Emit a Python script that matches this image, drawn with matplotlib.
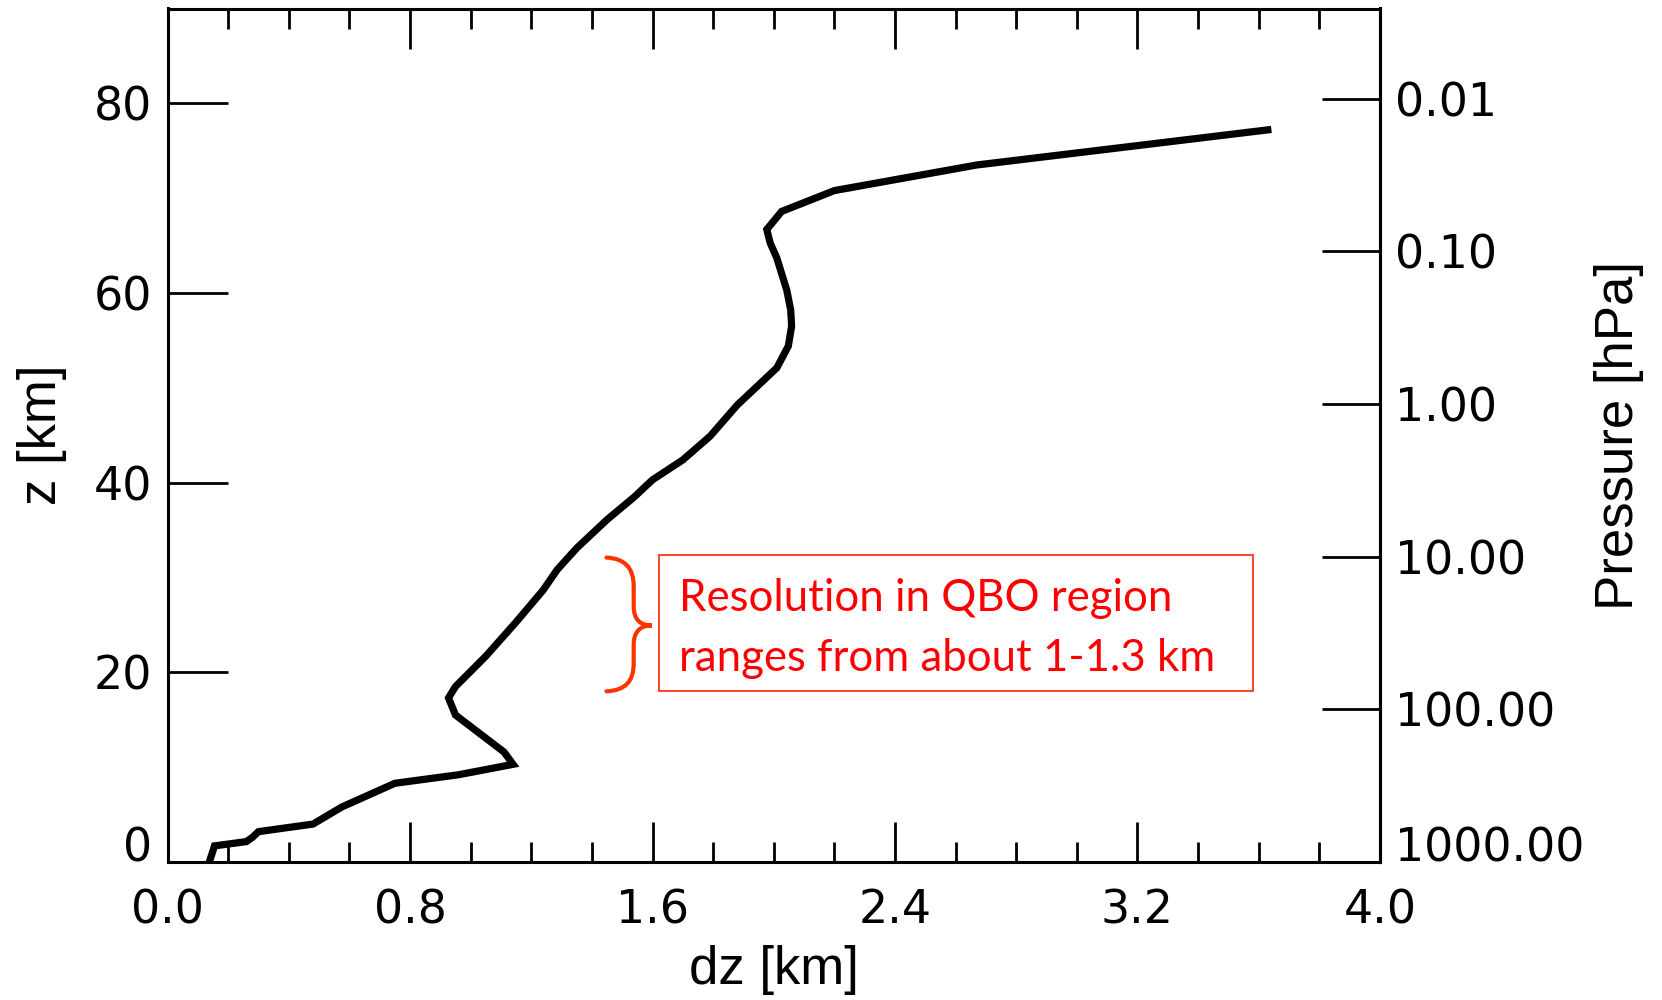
import numpy as np
import matplotlib
matplotlib.use("Agg")
import matplotlib.pyplot as plt
from matplotlib.path import Path
from matplotlib.patches import PathPatch, Rectangle

# ---- data ----
dz_km = [0.14, 0.155, 0.26, 0.28, 0.30, 0.48, 0.575, 0.75, 0.96, 1.14, 1.11, 0.95,
         0.927, 0.95, 1.05, 1.15, 1.24, 1.285, 1.35, 1.45, 1.54, 1.60, 1.70, 1.79,
         1.88, 2.01, 2.048, 2.059, 2.056, 2.043, 2.01, 1.988, 1.977, 2.026, 2.20,
         2.67, 3.63]
z_km = [0.2, 1.7, 2.15, 2.6, 3.2, 4.0, 5.8, 8.3, 9.2, 10.3, 11.6, 15.5,
        17.3, 18.5, 21.7, 25.3, 28.7, 30.8, 33.1, 36.1, 38.5, 40.3, 42.4, 44.9,
        48.2, 52.1, 54.4, 56.5, 58.2, 60.3, 63.7, 65.3, 66.7, 68.6, 70.8,
        73.5, 77.2]

x_ticks = [0.0, 0.8, 1.6, 2.4, 3.2, 4.0]
x_tick_labels = ["0.0", "0.8", "1.6", "2.4", "3.2", "4.0"]
z_ticks = [0, 20, 40, 60, 80]
z_tick_labels = ["0", "20", "40", "60", "80"]
pressures = [0.01, 0.1, 1.0, 10.0, 100.0, 1000.0]
pressure_labels = ["0.01", "0.10", "1.00", "10.00", "100.00", "1000.00"]
scale_height_decade = 16.1  # km per pressure decade on the right axis

annotation = "Resolution in QBO region\nranges from about 1-1.3 km"

# ---- figure ----
fig = plt.figure(figsize=(16.62, 10), dpi=100)
ax = fig.add_axes([0.1008, 0.138, 0.7295, 0.8535])
ax.set_xlim(0, 4.0)
ax.set_ylim(0, 90)

ax.plot(dz_km, z_km, color="black", lw=5.2, solid_joinstyle="miter", zorder=3)

for s in ax.spines.values():
    s.set_linewidth(2.2)

tick_font = dict(family="DejaVu Sans", size=33)
ax.set_xticks(x_ticks)
ax.set_xticklabels(x_tick_labels, **tick_font)
ax.set_xticks(np.arange(0, 4.01, 0.2), minor=True)
ax.set_yticks(z_ticks)
ax.set_yticklabels(z_tick_labels, **tick_font)
ax.tick_params(axis="x", which="major", direction="in", length=29, width=2,
               top=True, pad=19)
ax.tick_params(axis="x", which="minor", direction="in", length=14.4, width=2,
               top=True)
ax.tick_params(axis="y", which="major", direction="in", length=43, width=2,
               right=False, pad=11)
ax.get_yticklabels()[0].set_verticalalignment("baseline")

ax2 = ax.twinx()
ax2.set_ylim(0, 90)
p_z = [scale_height_decade * np.log10(1000.0 / p) for p in pressures]
ax2.set_yticks(p_z)
ax2.set_yticklabels(pressure_labels, **tick_font)
ax2.tick_params(axis="y", direction="in", length=42, width=2, pad=11)
ax2.get_yticklabels()[-1].set_verticalalignment("baseline")
for k, s in ax2.spines.items():
    s.set_visible(k == "right")
    s.set_linewidth(2.2)

lab_font = dict(family="Liberation Sans", size=38)
fig.text(0.4657, 0.03, "dz [km]", ha="center", va="center", **lab_font)
fig.text(0.0255, 0.565, "z [km]", ha="center", va="center", rotation=90, **lab_font)
fig.text(0.974, 0.565, "Pressure [hPa]", ha="center", va="center", rotation=90, **lab_font)

# annotation box
ax.add_patch(Rectangle((1.622, 18.0), 3.58 - 1.622, 32.4 - 18.0, fill=False,
                       edgecolor="#ff2200", lw=1.2, zorder=4))
ax.text(1.689, 24.6, annotation, color="#ff0000", family="Lato", size=31.5,
        ha="left", va="center", linespacing=1.58, zorder=5)

# curly brace
verts = [(1.448, 32.1), (1.51, 32.0), (1.538, 31.0), (1.538, 29.0),
         (1.538, 27.0),
         (1.538, 25.5), (1.56, 24.95), (1.598, 24.95),
         (1.56, 24.95), (1.538, 24.3), (1.538, 22.9),
         (1.538, 21.0),
         (1.538, 19.0), (1.51, 18.1), (1.448, 18.0)]
codes = [Path.MOVETO, Path.CURVE4, Path.CURVE4, Path.CURVE4,
         Path.LINETO,
         Path.CURVE4, Path.CURVE4, Path.CURVE4,
         Path.CURVE4, Path.CURVE4, Path.CURVE4,
         Path.LINETO,
         Path.CURVE4, Path.CURVE4, Path.CURVE4]
ax.add_patch(PathPatch(Path(verts, codes), fill=False, edgecolor="#ff3300",
                       lw=3, capstyle="round", zorder=4))

fig.savefig("out.png", dpi=100)
